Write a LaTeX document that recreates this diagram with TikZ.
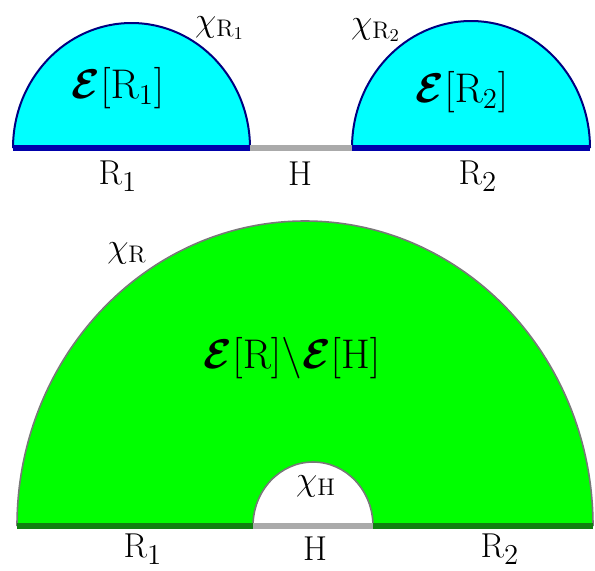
\documentclass[tikz,border=0pt]{standalone}
\usepackage{amsmath}
\usepackage{bm}
\definecolor{cyanfill}{RGB}{0,255,255}
\definecolor{navyline}{RGB}{0,0,128}
\definecolor{baseblue}{RGB}{0,0,170}
\definecolor{greenfill}{RGB}{0,255,0}
\definecolor{basegreen}{RGB}{16,128,16}
\definecolor{holegray}{RGB}{170,170,170}
\definecolor{rimgray}{RGB}{120,120,120}
\newcommand{\Ecal}{\bm{\mathcal{E}}}

\begin{document}
\begin{tikzpicture}[
        x=0.5pt, y=-0.5pt,
        lab/.style={font=\fontsize{19}{22}\selectfont, inner sep=0pt},
        elab/.style={font=\fontsize{20}{24}\selectfont, inner sep=0pt},
        chilab/.style={font=\fontsize{18}{21}\selectfont, inner sep=0pt},
        base/.style={line width=3.3pt},
        rim/.style={line width=1pt, draw=navyline}
    ]
        \useasboundingbox (0,0) rectangle (595,570);

        % Top left: R1 half
        \fill[cyanfill] (13,148) arc[start angle=180, end angle=360, x radius=118.5, y radius=125] -- cycle;
        \draw[rim] (13,148) arc[start angle=180, end angle=360, x radius=118.5, y radius=125];

        % Top right: R2 half
        \fill[cyanfill] (352,148) arc[start angle=180, end angle=360, x radius=119, y radius=127] -- cycle;
        \draw[rim] (352,148) arc[start angle=180, end angle=360, x radius=119, y radius=127];

        % Top base lines
        \draw[base, holegray] (250,148) -- (352,148);
        \draw[base, baseblue] (13,148) -- (250,148);
        \draw[base, baseblue] (352,148) -- (590,148);

        \node[elab] (er1) at (118,88) {$\Ecal[\mathrm{R}_1]$};
        \node[elab] (er2) at (462,92) {$\Ecal[\mathrm{R}_2]$};
        \node[chilab] (chir1) at (220,28) {$\chi_{\mathrm{R}_1}$};
        \node[chilab] (chir2) at (376,30) {$\chi_{\mathrm{R}_2}$};
        \node[lab] (r1top) at (118,176) {$\mathrm{R}_1$};
        \node[lab] (htop) at (300,174) {$\mathrm{H}$};
        \node[lab] (r2top) at (478,176) {$\mathrm{R}_2$};

        % Bottom: R with the hole H
        \fill[greenfill] (17,526) arc[start angle=180, end angle=360, x radius=288, y radius=305]
            -- (373,526) arc[start angle=360, end angle=180, x radius=60, y radius=64] -- cycle;
        \draw[line width=0.8pt, rimgray] (17,526) arc[start angle=180, end angle=360, x radius=288, y radius=305];
        \draw[line width=0.8pt, rimgray] (373,526) arc[start angle=360, end angle=180, x radius=60, y radius=64];

        % Bottom base lines
        \draw[base, basegreen] (17,526) -- (253,526);
        \draw[base, holegray] (253,526) -- (373,526);
        \draw[base, basegreen] (373,526) -- (593,526);

        \node[elab] (erh) at (292,358) {$\Ecal[\mathrm{R}]\backslash\Ecal[\mathrm{H}]$};
        \node[chilab] (chir) at (127,253) {$\chi_{\mathrm{R}}$};
        \node[chilab] (chih) at (316,486) {$\chi_{\mathrm{H}}$};
        \node[lab] (r1bot) at (143,549) {$\mathrm{R}_1$};
        \node[lab] (hbot) at (315,549) {$\mathrm{H}$};
        \node[lab] (r2bot) at (500,549) {$\mathrm{R}_2$};

    \end{tikzpicture}
\end{document}
